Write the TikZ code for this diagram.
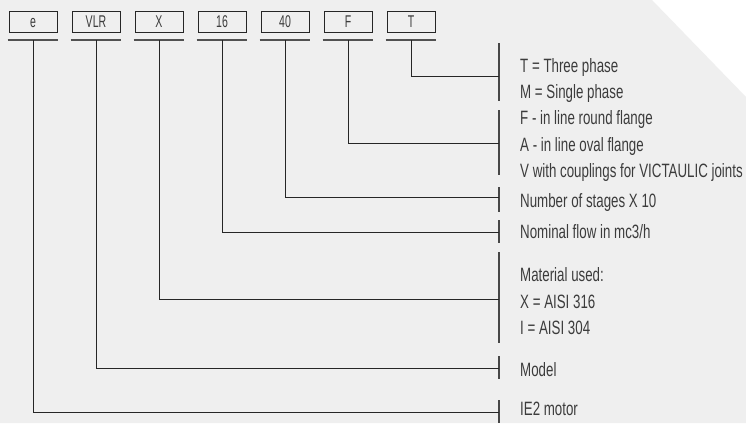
\documentclass[tikz,border=0pt]{standalone}
\usepackage{fontspec}
\setmainfont{Liberation Sans}[FakeStretch=0.69]
\newfontfamily\codefont{Liberation Sans}[FakeStretch=0.62]
\usepackage{xcolor}
\usetikzlibrary{positioning}
\definecolor{bggrey}{HTML}{EFEFEF}
\definecolor{ink}{HTML}{3C3C3C}
\definecolor{rule}{HTML}{262626}

\begin{document}
\begin{tikzpicture}[
  x=1pt, y=-1pt,
  code/.style={draw=rule, line width=1pt, minimum width=48pt, minimum height=21pt,
               inner sep=0pt, text height=11.7pt, text depth=0pt, text=ink,
               font=\codefont\fontsize{17}{17}\selectfont},
  lbl/.style={anchor=base west, align=left, inner sep=0pt, text=ink,
              font=\fontsize{19.3}{26.3}\selectfont},
  uline/.style={draw=rule!80, line width=1.3pt},
  link/.style={draw=rule, line width=1pt},
  bar/.style={draw=rule!85, line width=1.4pt},
]
\useasboundingbox (0,0) rectangle (746,423);
\fill[white] (0,0) rectangle (746,423);
\fill[bggrey] (0,0) -- (652,0) -- (746,97) -- (746,423) -- (0,423) -- cycle;
% code boxes
\node[code] (ce) at (33,21.5) {e};
\node[code, right=14pt of ce] (cv) {VLR};
\node[code, right=14pt of cv] (cx) {X};
\node[code, right=14pt of cx] (cq) {16};
\node[code, right=14pt of cq] (cs) {40};
\node[code, right=14pt of cs] (cf) {F};
\node[code, right=14pt of cf] (ct) {T};
\foreach \c in {ce,cv,cx,cq,cs,cf,ct}
  \draw[uline] ([xshift=-1pt,yshift=-7.5pt]\c.south west) -- ([yshift=-7.5pt]\c.south east);
% brackets
\draw[bar] (499,43) -- (499,101);
\draw[bar] (499,110) -- (499,175);
\draw[bar] (499,187) -- (499,212);
\draw[bar] (499,220) -- (499,243);
\draw[bar] (499,252) -- (499,343);
\draw[bar] (499,356) -- (499,379);
\draw[bar] (499,400) -- (499,423);
\coordinate (jt) at (499,76);
\coordinate (jf) at (499,143);
\coordinate (js) at (499,197);
\coordinate (jq) at (499,232);
\coordinate (jx) at (499,299);
\coordinate (jv) at (499,368);
\coordinate (je) at (499,412);
\foreach \c/\j in {ct/jt,cf/jf,cs/js,cq/jq,cx/jx,cv/jv,ce/je}
  \draw[link] ([yshift=-7.5pt]\c.south) |- (\j);
% labels (base = last line)
\node[lbl] (lt) at (520,98.3) {T = Three phase\\M = Single phase};
\node[lbl] (lf) at (520,177.3) {F - in line round flange\\A - in line oval flange\\V with couplings for VICTAULIC joints};
\node[lbl] (ls) at (520,207.8) {Number of stages X 10};
\node[lbl] (lq) at (520,238.8) {Nominal flow in mc3/h};
\node[lbl] (lx) at (520,334.4) {Material used:\\X = AISI 316\\I = AISI 304};
\node[lbl] (lv) at (520,376.9) {Model};
\node[lbl] (le) at (520,415.8) {IE2 motor};
\end{tikzpicture}
\end{document}
